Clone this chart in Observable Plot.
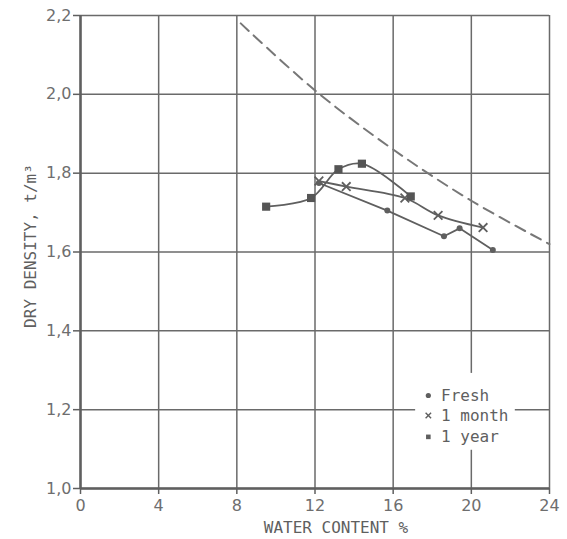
<!DOCTYPE html>
<html>
<head>
<meta charset="utf-8">
<script src="https://cdn.jsdelivr.net/npm/d3@7"></script>
<script src="https://cdn.jsdelivr.net/npm/@observablehq/plot@0.6"></script>
<style>
  html, body { margin: 0; padding: 0; background: #ffffff; }
  #chart svg { display: block; }
</style>
</head>
<body>
<div id="chart"></div>
<script>
// ---- data ----
const xTicks = [0, 4, 8, 12, 16, 20, 24];
const yTicks = [1.0, 1.2, 1.4, 1.6, 1.8, 2.0, 2.2];
const xTitle = "WATER CONTENT %";
const yTitle = "DRY DENSITY, t/m³";

const freshW = [12.2, 15.7, 18.6, 19.4, 21.1];
const freshD = [1.775, 1.705, 1.64, 1.66, 1.605];

const monthW = [12.2, 13.6, 16.6, 18.3, 20.6];
const monthD = [1.78, 1.766, 1.737, 1.693, 1.662];

const yearW = [9.5, 11.8, 13.2, 14.4, 16.9];
const yearD = [1.715, 1.737, 1.81, 1.824, 1.741];

// dashed saturation (zero air voids) curve
const zavW = [8.2, 12, 16, 20, 24];
const zavD = [2.18, 2.01, 1.86, 1.73, 1.62];

const legendLabels = ["Fresh", "1 month", "1 year"];
const legendSymbols = ["circle", "times", "square"];
const legendY = [1.236, 1.185, 1.131];
const legendX = 17.8;
const legendTextX = 18.45;
const legendBox = {x1: 17.15, x2: 22.25, y1: 1.097, y2: 1.292};

// ---- build tables ----
const toRows = (w, d) => w.map((v, i) => ({w: v, d: d[i]}));
const fresh = toRows(freshW, freshD);
const month = toRows(monthW, monthD);
const year = toRows(yearW, yearD);
const zav = toRows(zavW, zavD);
const legend = legendLabels.map((l, i) => ({label: l, symbol: legendSymbols[i], y: legendY[i]}));

const ink = "#5f5f5f";
const gridInk = "#6a6a6a";
const labelInk = "#6e6e6e";
const mono = "DejaVu Sans Mono";
const fmt = d => d.toFixed(1).replace(".", ",");

const chart = Plot.plot({
  width: 567,
  height: 539,
  marginLeft: 80,
  marginRight: 18,
  marginTop: 15,
  marginBottom: 51,
  style: {fontFamily: "DejaVu Sans", fontSize: "16px", color: labelInk, background: "#ffffff"},
  x: {domain: [0, 24], ticks: xTicks},
  y: {domain: [1.0, 2.2], ticks: yTicks},
  marks: [
    Plot.gridX(xTicks, {stroke: gridInk, strokeOpacity: 1, strokeWidth: 1.5}),
    Plot.gridY(yTicks, {stroke: gridInk, strokeOpacity: 1, strokeWidth: 1.5}),
    Plot.rect([legendBox], {x1: "x1", x2: "x2", y1: "y1", y2: "y2", fill: "#ffffff"}),
    Plot.ruleX([0], {stroke: ink, strokeWidth: 2.5}),
    Plot.ruleY([1.0], {stroke: ink, strokeWidth: 2.5}),
    Plot.axisX({
      ticks: xTicks, tickSize: 6, tickPadding: 5, tickFormat: d => String(d),
      stroke: ink, strokeWidth: 1.5, label: null,
      fontFamily: "DejaVu Sans", fontSize: 16
    }),
    Plot.axisY({
      ticks: yTicks, tickSize: 7, tickPadding: 2, tickFormat: fmt,
      stroke: ink, strokeWidth: 1.5, label: null,
      fontFamily: "DejaVu Sans", fontSize: 16
    }),
    // axis titles
    Plot.text([xTitle], {frameAnchor: "bottom", dx: 21, dy: 39, lineAnchor: "middle", textAnchor: "middle",
      text: d => d, fill: ink, fontFamily: mono, fontSize: 16, letterSpacing: 1}),
    Plot.text([yTitle], {frameAnchor: "left", dx: -50, dy: -6, rotate: -90, lineAnchor: "middle", textAnchor: "middle",
      text: d => d, fill: ink, fontFamily: mono, fontSize: 16, letterSpacing: 0.5}),
    // dashed curve
    Plot.line(zav, {x: "w", y: "d", stroke: "#777", strokeWidth: 2, strokeDasharray: "11,7", curve: "catmull-rom"}),
    // series lines
    Plot.line(year, {x: "w", y: "d", stroke: ink, strokeWidth: 1.8, curve: "catmull-rom"}),
    Plot.line(month, {x: "w", y: "d", stroke: ink, strokeWidth: 1.8, curve: "catmull-rom"}),
    Plot.line(fresh, {x: "w", y: "d", stroke: ink, strokeWidth: 1.8}),
    // markers
    Plot.dot(fresh, {x: "w", y: "d", r: 3, fill: ink, symbol: "circle"}),
    Plot.dot(month, {x: "w", y: "d", r: 4, stroke: ink, strokeWidth: 1.8, symbol: "times"}),
    Plot.dot(year, {x: "w", y: "d", r: 4.6, fill: "#555", symbol: "square"}),
    // legend
    Plot.dot(legend, {x: () => legendX, y: "y", symbol: "symbol", r: 2.6, fill: d => d.symbol === "times" ? "none" : ink, stroke: d => d.symbol === "times" ? ink : "none", strokeWidth: 1.4}),
    Plot.text(legend, {x: () => legendTextX, y: "y", text: "label", textAnchor: "start", fill: ink, fontFamily: mono, fontSize: 16})
  ]
});

document.getElementById("chart").appendChild(chart);
</script>
</body>
</html>
